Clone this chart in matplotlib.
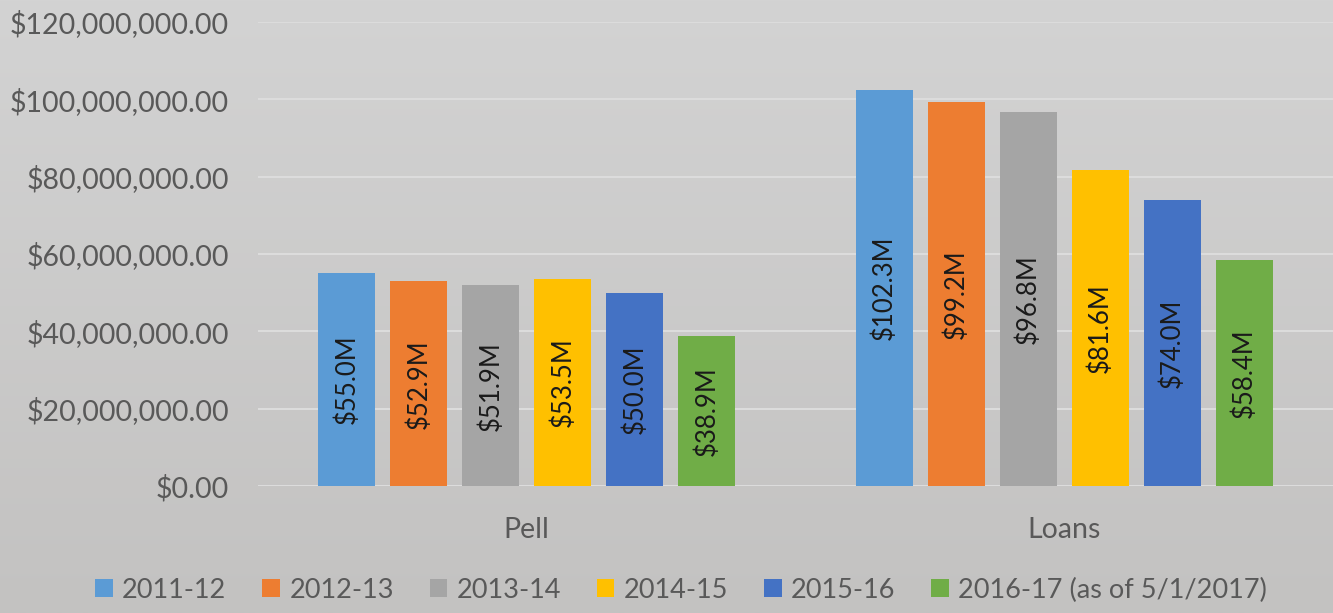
import matplotlib.pyplot as plt
import numpy as np
from matplotlib.ticker import FuncFormatter

plt.rcParams['font.family'] = ['Lato', 'DejaVu Sans']

categories = ["Pell", "Loans"]
years = ["2011-12", "2012-13", "2013-14", "2014-15", "2015-16", "2016-17 (as of 5/1/2017)"]
colors = ["#5b9bd5", "#ed7d31", "#a5a5a5", "#ffc000", "#4472c4", "#70ad47"]

# values in millions of dollars, one list per year: [Pell, Loans]
v_2011 = [55.0, 102.3]
v_2012 = [52.9, 99.2]
v_2013 = [51.9, 96.8]
v_2014 = [53.5, 81.6]
v_2015 = [50.0, 74.0]
v_2016 = [38.9, 58.4]
series = [v_2011, v_2012, v_2013, v_2014, v_2015, v_2016]

fig = plt.figure(figsize=(13.33, 6.13), dpi=100)
fig.patch.set_facecolor("#c5c4c3")

# faint background gradient
bg = fig.add_axes([0, 0, 1, 1], zorder=-10)
grad = np.linspace(0, 1, 256).reshape(-1, 1)
bg.imshow(grad, aspect="auto", cmap=plt.matplotlib.colors.LinearSegmentedColormap.from_list(
    "g", ["#d3d3d3", "#c3c2c1"]), extent=[0, 1, 0, 1])
bg.axis("off")

ax = fig.add_axes([0.1936, 0.2072, 0.8064, 0.7569])
ax.patch.set_alpha(0)

x = np.arange(len(categories))
step = 0.134
width = 0.106
for i, (vals, c, lab) in enumerate(zip(series, colors, years)):
    pos = x + (i - 2.5) * step
    vals_d = [v * 1e6 for v in vals]
    ax.bar(pos, vals_d, width, color=c, label=lab, zorder=3)
    for p, v in zip(pos, vals):
        ax.text(p, v * 1e6 / 2, "${:.1f}M".format(v), rotation=90, ha="center", va="center",
                fontsize=18.5, color="#1a1a1a", zorder=4)

ax.set_xlim(-0.5, 1.5)
ax.set_ylim(0, 120e6)
ax.set_yticks(np.arange(0, 120e6 + 1, 20e6))
ax.yaxis.set_major_formatter(FuncFormatter(lambda v, _: "${:,.2f}".format(v)))
ax.set_xticks(x)
ax.set_xticklabels(categories)
ax.tick_params(axis="both", length=0, labelsize=20.5, colors="#595959")
ax.tick_params(axis="y", pad=21)
ax.tick_params(axis="x", pad=22)
ax.grid(axis="y", color="#dcdcdc", lw=1.5, zorder=0)
for s in ax.spines.values():
    s.set_visible(False)

fig.legend(loc="center", bbox_to_anchor=(0.511, 0.037), ncol=6, frameon=False,
           fontsize=19.5, labelcolor="#595959", handlelength=0.65, handleheight=0.65,
           handletextpad=0.35, columnspacing=1.32)

fig.savefig("out.png", dpi=100, facecolor=fig.get_facecolor())
